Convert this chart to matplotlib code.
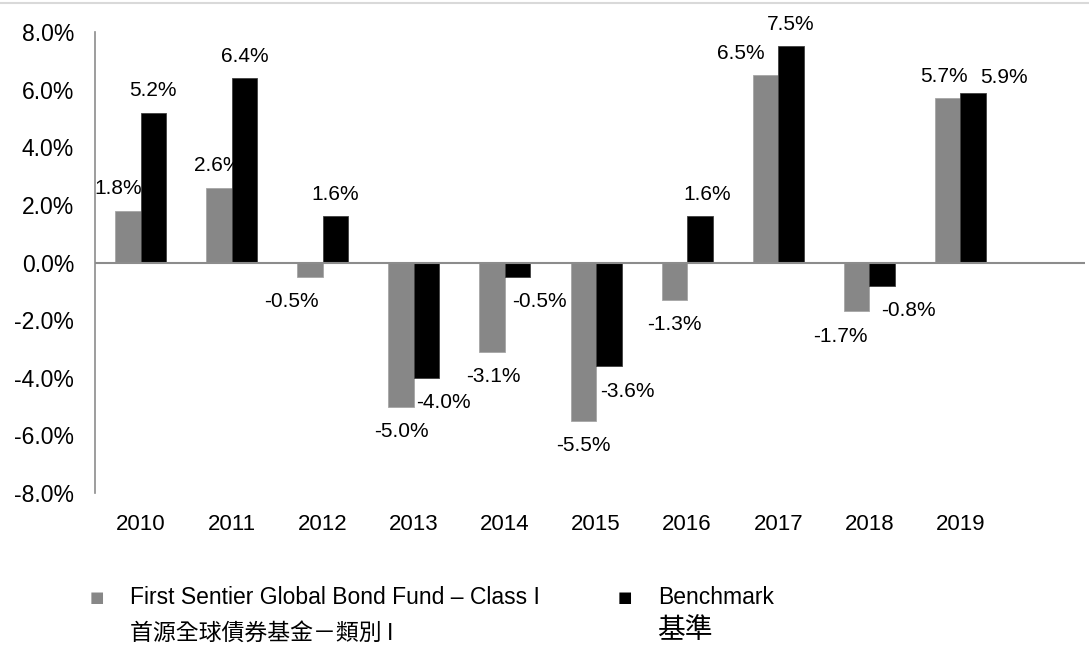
import matplotlib
matplotlib.use('Agg')
import matplotlib.pyplot as plt
import numpy as np

plt.rcParams['font.family'] = ['Liberation Sans', 'Noto Sans CJK TC']

#%% data
years = ['2010', '2011', '2012', '2013', '2014', '2015', '2016', '2017', '2018', '2019']
fund = [1.8, 2.6, -0.5, -5.0, -3.1, -5.5, -1.3, 6.5, -1.7, 5.7]
bench = [5.2, 6.4, 1.6, -4.0, -0.5, -3.6, 1.6, 7.5, -0.8, 5.9]
yticks = [-8, -6, -4, -2, 0, 2, 4, 6, 8]

fund_name_en = 'First Sentier Global Bond Fund \u2013 Class I'
fund_name_zh = '首源全球債券基金－類別 I'
bench_name_en = 'Benchmark'
bench_name_zh = '基準'

# label nudges in pixels (Excel placed some labels off-centre)
fund_dx = [-10, -1, -19, 0, 1, 0, 0, -25, -16, -4]
bench_dx = [0, 0, 0, 17, 22, 19, 7, 0, 26, 31]
bench_dy = [0, 0, 0, 0, 0, 0, 0, 0, 0, 7]

GREY = '#878787'
W, H = 1089, 645

#%% figure
fig = plt.figure(figsize=(W / 100, H / 100), dpi=100)
ax = fig.add_axes([95 / W, 1 - 493 / H, (1085 - 95) / W, (493 - 32) / H])

x = np.arange(len(years))
bw = 0.28
ax.bar(x - bw / 2, fund, bw, color=GREY, edgecolor='#a6a6a6', linewidth=0.6, zorder=2)
ax.bar(x + bw / 2, bench, bw, color='black', edgecolor='#404040', linewidth=0.6, zorder=2)

ax.set_xlim(-0.5, -0.5 + (1085 - 95) / 91.1)
ax.set_ylim(-8, 8)
ax.axhline(0, color='#8c8c8c', linewidth=1.5, zorder=3)

for s in ['top', 'right', 'bottom']:
    ax.spines[s].set_visible(False)
ax.spines['left'].set_color('#8c8c8c')
ax.spines['left'].set_linewidth(1.2)

ax.set_yticks(yticks)
ax.set_yticklabels(['%.1f%%' % v for v in yticks])
ax.set_xticks(x)
ax.set_xticklabels(years)
ax.tick_params(axis='y', length=0, pad=15, labelsize=16.5)
ax.tick_params(axis='x', length=0, pad=15, labelsize=16)

px = 0.72
for i in range(len(years)):
    for val, xc, dx, dy in [(fund[i], x[i] - bw / 2, fund_dx[i], 0),
                            (bench[i], x[i] + bw / 2, bench_dx[i], bench_dy[i])]:
        off = -22 if val > 0 else 25
        ax.annotate('%.1f%%' % val, (xc, val), xytext=(dx * px, -(off + dy) * px),
                    textcoords='offset points', ha='center', va='center', fontsize=15)

# top rule
fig.add_artist(plt.Line2D([0, 1], [1 - 2.5 / H, 1 - 2.5 / H], color='#d9d9d9', linewidth=1.5))

# legend
fig.text(97 / W, 1 - 597 / H, '\u25a0', color=GREY, fontsize=11, ha='center', va='center',
         family=['DejaVu Sans'])
fig.text(130 / W, 1 - 597 / H, fund_name_en, fontsize=16.5, va='center')
fig.text(130 / W, 1 - 633 / H, fund_name_zh, fontsize=16.5, va='center', fontweight='light',
         family=['Noto Sans CJK TC', 'Liberation Sans'])
fig.text(625 / W, 1 - 597 / H, '\u25a0', color='black', fontsize=11, ha='center', va='center',
         family=['DejaVu Sans'])
fig.text(658 / W, 1 - 597 / H, bench_name_en, fontsize=16.5, va='center')
fig.text(657 / W, 1 - 630 / H, bench_name_zh, fontsize=20, va='center', fontweight='light',
         family=['Noto Sans CJK TC', 'Liberation Sans'])

fig.savefig('out.png', dpi=100)
